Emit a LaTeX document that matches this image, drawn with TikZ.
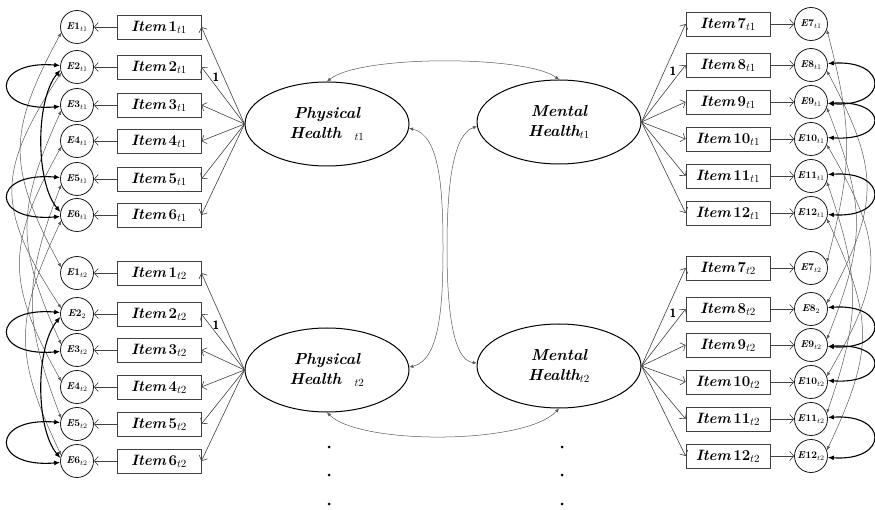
\documentclass[tikz,border=0pt]{standalone}
\usetikzlibrary{shapes.geometric,arrows.meta}
\newcommand\myitem[2]{Item\,\textup{#1}$_{#2}$}
\newcommand\myerr[2]{E\textup{#1}$_{#2}$}
\begin{document}
\begin{tikzpicture}[x=1pt,y=-1pt,
  itembox/.style={draw=black!75, line width=0.8pt, minimum width=84pt, minimum height=24pt, inner sep=0pt, font=\fontsize{15}{17}\selectfont\bfseries\itshape},
  errc/.style={draw=black!90, line width=0.8pt, circle, minimum size=33pt, inner sep=0pt, font=\fontsize{10}{11}\selectfont\bfseries\itshape},
  latent/.style={draw=black, line width=1pt, ellipse, minimum width=164pt, minimum height=84pt, inner sep=0pt, align=center, font=\fontsize{16}{20}\selectfont\bfseries\itshape},
  load/.style={draw=black!75, line width=0.6pt, -{Straight Barb[length=4pt,width=9pt]}},
  res/.style={draw=black!75, line width=0.6pt, -{Straight Barb[length=4pt,width=9pt]}},
  covthin/.style={draw=black!65, line width=0.5pt, {Latex[length=4pt,width=3.5pt]}-{Latex[length=4pt,width=3.5pt]}},
  covthick/.style={draw=black, line width=1.1pt, {Latex[length=6pt,width=5pt]}-{Latex[length=6pt,width=5pt]}},
  one/.style={font=\sffamily\bfseries\fontsize{12}{13}\selectfont, inner sep=0pt},
  dot/.style={circle, fill=black, inner sep=0pt, minimum size=3pt}
]
\useasboundingbox (0,0) rectangle (875,510);

% latent variables
\node[latent] (P1) at (327,124) {Physical\\Health\ \ $_{t1}$};
\node[latent] (M1) at (559,122) {Mental\\Health$_{t1}$};
\node[latent] (P2) at (327,370) {Physical\\Health\ \ $_{t2}$};
\node[latent] (M2) at (559,366) {Mental\\Health$_{t2}$};

% left, time 1
\foreach \i/\y in {1/27,2/67,3/105,4/141,5/179,6/215}{
  \node[itembox] (Ia\i) at (159,\y) {\myitem{\i}{t1}};
  \node[errc] (Ea\i) at (77,\y) {\myerr{\i}{t1}};
  \draw[res] (Ia\i.west) -- (Ea\i.east);
  \draw[load] (P1.west) -- (Ia\i.east);
}
% left, time 2
\foreach \i/\y/\s in {1/273/t2,2/314/2,3/350/t2,4/387/t2,5/424/t2,6/461/t2}{
  \node[itembox] (Ic\i) at (159,\y) {\myitem{\i}{t2}};
  \node[errc] (Ec\i) at (77,\y) {\myerr{\i}{\s}};
  \draw[res] (Ic\i.west) -- (Ec\i.east);
  \draw[load] (P2.west) -- (Ic\i.east);
}
% right, time 1
\foreach \i/\y in {7/24,8/65,9/102,10/139,11/176,12/213}{
  \node[itembox] (Ib\i) at (728,\y) {\myitem{\i}{t1}};
  \node[errc] (Eb\i) at (811,\y) {\myerr{\i}{t1}};
  \draw[res] (Ib\i.east) -- (Eb\i.west);
  \draw[load] (M1.east) -- (Ib\i.west);
}
% right, time 2
\foreach \i/\y/\s in {7/268/t2,8/309/2,9/345/t2,10/382/t2,11/419/t2,12/456/t2}{
  \node[itembox] (Id\i) at (728,\y) {\myitem{\i}{t2}};
  \node[errc] (Ed\i) at (811,\y) {\myerr{\i}{\s}};
  \draw[res] (Id\i.east) -- (Ed\i.west);
  \draw[load] (M2.east) -- (Id\i.west);
}

% fixed loadings
\node[one] (oa) at (216,77) {1};
\node[one] (oc) at (216,325) {1};
\node[one] (ob) at (673,71) {1};
\node[one] (od) at (673,313) {1};

% latent covariances
\draw[covthin] (P1.north) .. controls (360,55) and (525,55) .. (M1.north);
\draw[covthin] (P2.south) .. controls (360,445) and (525,445) .. (M2.south);
\coordinate (cPP) at (443,248);
\coordinate (cMM) at (447,248);
\draw[covthin] (P1.-3) .. controls (440,135) and (443,190) .. (cPP) .. controls (443,305) and (440,360) .. (P2.2);
\draw[covthin] (M1.183) .. controls (452,135) and (447,190) .. (cMM) .. controls (447,305) and (452,360) .. (M2.178);

% left error covariances
\foreach \i/\dx in {1/-54,2/-65,3/-45,4/-55,5/-38,6/-47}{
  \draw[covthin] (Ea\i.200) .. controls +(\dx,100) and +(\dx,-100) .. (Ec\i.160);
}
\foreach \e in {Ea,Ec}{
  \draw[covthick] (\e2.175) .. controls +(-70,-6) and +(-70,6) .. (\e3.185);
  \draw[covthick] (\e5.175) .. controls +(-70,-6) and +(-70,6) .. (\e6.185);
  \draw[covthick] (\e2.190) .. controls +(-25,30) and +(-25,-30) .. (\e6.170);
}

% right error covariances
\foreach \i/\dx in {7/26,8/53,9/39,10/58,11/34,12/47}{
  \draw[covthin] (Eb\i.-20) .. controls +(\dx,100) and +(\dx,-100) .. (Ed\i.20);
}
\foreach \e in {Eb,Ed}{
  \draw[covthick] (\e8.5) .. controls +(61,-4) and +(61,4) .. (\e9.-5);
  \draw[covthick] (\e9.-5) .. controls +(61,-4) and +(61,4) .. (\e10.5);
  \draw[covthick] (\e11.5) .. controls +(61,-4) and +(61,4) .. (\e12.-5);
}

% continuation dots
\node[dot] (pd1) at (329,447) {};
\node[dot] (pd2) at (329,475) {};
\node[dot] (pd3) at (329,504) {};
\node[dot] (md1) at (562,447) {};
\node[dot] (md2) at (562,475) {};
\node[dot] (md3) at (562,504) {};
\end{tikzpicture}
\end{document}
